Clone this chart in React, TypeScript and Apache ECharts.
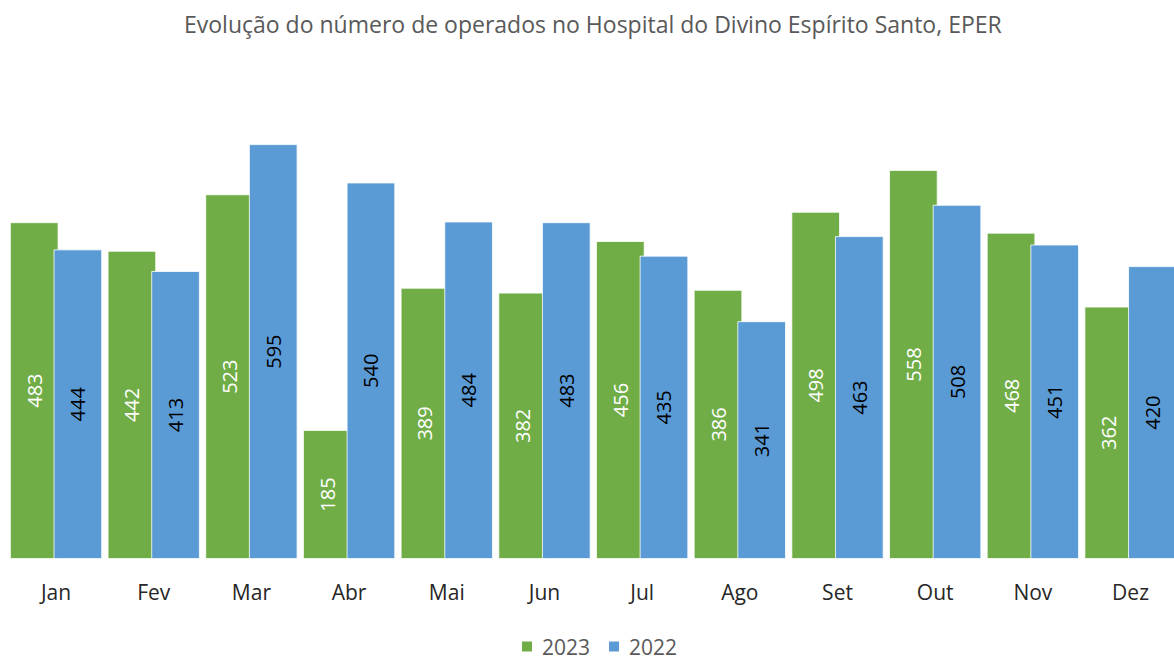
import React, { useEffect, useRef } from "react";
import * as echarts from "echarts";

const months = ["Jan", "Fev", "Mar", "Abr", "Mai", "Jun", "Jul", "Ago", "Set", "Out", "Nov", "Dez"];
const values2023 = [483, 442, 523, 185, 389, 382, 456, 386, 498, 558, 468, 362];
const values2022 = [444, 413, 595, 540, 484, 483, 435, 341, 463, 508, 451, 420];
const titleText = "Evolução do número de operados no Hospital do Divino Espírito Santo, EPER";

const FONT = "'Open Sans', 'Noto Sans', sans-serif";

export default function App() {
  const ref = useRef<HTMLDivElement>(null);
  useEffect(() => {
    if (!ref.current) return;
    const chart = echarts.init(ref.current, undefined, { renderer: "svg" });
    chart.setOption({
      animation: false,
      backgroundColor: "#ffffff",
      title: {
        text: titleText,
        left: 179,
        top: 7,
        textStyle: { color: "#595959", fontSize: 23, fontWeight: "normal", fontFamily: FONT },
      },
      legend: {
        top: 631,
        left: 515,
        itemWidth: 12,
        itemHeight: 12,
        itemGap: 17,
        icon: "rect",
        textStyle: { color: "#595959", fontSize: 21, fontFamily: FONT, padding: [0, 0, 0, 4] },
        data: ["2023", "2022"],
      },
      grid: { left: 7.2, right: -5.4, top: 71, bottom: 102, outerBoundsMode: "none", containLabel: false },
      xAxis: {
        type: "category",
        data: months,
        axisLine: { show: false },
        axisTick: { show: false },
        axisLabel: { color: "#262626", fontSize: 21, fontFamily: FONT, margin: 22 },
      },
      yAxis: {
        type: "value",
        min: 0,
        max: 700,
        show: false,
        splitLine: { show: false },
      },
      series: [
        {
          name: "2023",
          type: "bar",
          data: values2023,
          barWidth: 48.5,
          barGap: "-10%",
          itemStyle: { color: "#70AD47", borderColor: "#ffffff", borderWidth: 0.8 },
          label: {
            show: true,
            position: "inside",
            rotate: 90,
            color: "#ffffff",
            fontSize: 20,
            fontFamily: FONT,
          },
        },
        {
          name: "2022",
          type: "bar",
          data: values2022,
          barWidth: 48.5,
          barGap: "-10%",
          itemStyle: { color: "#5B9BD5", borderColor: "#ffffff", borderWidth: 0.8 },
          label: {
            show: true,
            position: "inside",
            rotate: 90,
            color: "#000000",
            fontSize: 20,
            fontFamily: FONT,
          },
        },
      ],
    });
    return () => chart.dispose();
  }, []);
  return <div ref={ref} style={{ position: "fixed", left: 0, top: 0, width: 1174, height: 661 }} />;
}
